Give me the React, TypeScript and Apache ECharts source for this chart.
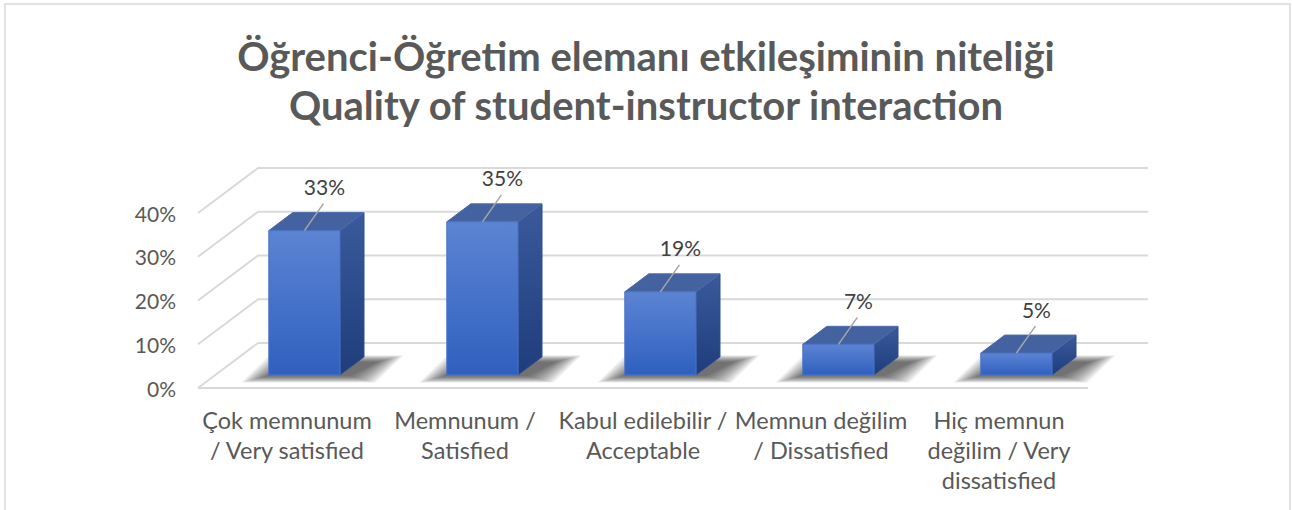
import React, { useEffect, useRef } from "react";
import * as echarts from "echarts";

const titleLines = [
  "Öğrenci-Öğretim elemanı etkileşiminin niteliği",
  "Quality of student-instructor interaction",
];
const categories = [
  "Çok memnunum\n/ Very satisfied",
  "Memnunum /\nSatisfied",
  "Kabul edilebilir /\nAcceptable",
  "Memnun değilim\n/ Dissatisfied",
  "Hiç memnun\ndeğilim / Very\ndissatisfied",
];
const values = [33, 35, 19, 7, 5];
const yTicks = [0, 10, 20, 30, 40];

const FONT = "Lato, 'Open Sans', sans-serif";
const DEPTH_X = 60;
const DEPTH_Y = -45;
const BAR_D1 = 0.29;
const BAR_D2 = 0.69;
const BAR_W = 0.4;
const SHADOW_LAYERS = 12;

export default function App() {
  const ref = useRef<HTMLDivElement>(null);
  useEffect(() => {
    document.body.style.margin = "0";
    const chart = echarts.init(ref.current!, null, { renderer: "svg" });
    const option: any = {
      animation: false,
      backgroundColor: "#ffffff",
      title: {
        text: titleLines.join("\n"),
        left: "center",
        top: 26,
        textStyle: {
          fontFamily: FONT,
          fontSize: 40,
          fontWeight: "bold",
          color: "#595959",
          lineHeight: 49,
        },
      },
      graphic: [
        {
          type: "rect",
          shape: { x: 5, y: 4, width: 1285, height: 520 },
          style: { fill: "none", stroke: "#d9d9d9", lineWidth: 1.5 },
          silent: true,
        },
      ],
      grid: { left: 198, top: 213, width: 890, height: 175 },
      xAxis: {
        type: "category",
        data: categories,
        axisLine: { show: false },
        axisTick: { show: false },
        splitLine: { show: false },
        axisLabel: {
          interval: 0,
          fontFamily: FONT,
          fontSize: 23.5,
          lineHeight: 30,
          color: "#595959",
          margin: 17,
        },
      },
      yAxis: {
        type: "value",
        min: 0,
        max: 40,
        interval: 10,
        axisLine: { show: false },
        axisTick: { show: false },
        splitLine: { show: false },
        axisLabel: {
          formatter: "{value}%",
          fontFamily: FONT,
          fontSize: 21,
          color: "#595959",
          margin: 22,
        },
      },
      series: [
        {
          type: "custom",
          name: "walls",
          z: 1,
          silent: true,
          data: yTicks.map((v) => [0, v]),
          encode: { x: 0, y: 1 },
          renderItem: (params: any, api: any) => {
            const cs = params.coordSys;
            const p = api.coord([0, api.value(1)]);
            const y = p[1];
            const x0 = cs.x;
            const x1 = cs.x + cs.width;
            const ls = { stroke: "#d9d9d9", lineWidth: 2 };
            const children: any[] = [
              {
                type: "line",
                shape: { x1: x0, y1: y, x2: x0 + DEPTH_X, y2: y + DEPTH_Y },
                style: ls,
              },
              {
                type: "line",
                shape: { x1: x0 + DEPTH_X, y1: y + DEPTH_Y, x2: x1 + DEPTH_X, y2: y + DEPTH_Y },
                style: ls,
              },
            ];
            if (api.value(1) === 0) {
              children.push({
                type: "line",
                shape: { x1: x0, y1: y, x2: x1, y2: y },
                style: ls,
              });
            }
            return { type: "group", children };
          },
        },
        {
          type: "custom",
          name: "bars",
          z: 2,
          data: values.map((v, i) => [i, v]),
          encode: { x: 0, y: 1 },
          renderItem: (params: any, api: any) => {
            const band = api.size([1, 0])[0];
            const base = api.coord([api.value(0), 0]);
            const topP = api.coord([api.value(0), api.value(1)]);
            const w = band * BAR_W;
            const ox = DEPTH_X * BAR_D1;
            const oy = DEPTH_Y * BAR_D1;
            const dx = DEPTH_X * (BAR_D2 - BAR_D1);
            const dy = DEPTH_Y * (BAR_D2 - BAR_D1);
            const L = base[0] - w / 2 + ox;
            const R = L + w;
            const B = base[1] + oy;
            const T = topP[1] + oy;
            const cx = (L + R) / 2;
            const v = api.value(1);
            const shadows: any[] = [];
            for (let k = SHADOW_LAYERS - 1; k >= 0; k--) {
              const e = k * 2.3;
              const ev = k * 0.6;
              shadows.push({
                type: "polygon",
                shape: {
                  points: [
                    [L - 2 - e, B + 1 + ev],
                    [R + 10 + e, B + 1 + ev],
                    [R + dx + 14 + e, B + dy + 5 - ev],
                    [L + dx + 2 - e, B + dy + 5 - ev],
                  ],
                },
                style: { fill: "rgba(30,30,30,0.075)" },
                silent: true,
              });
            }
            return {
              type: "group",
              children: [
                ...shadows,
                {
                  type: "polygon",
                  shape: { points: [[R, T], [R + dx, T + dy], [R + dx, B + dy], [R, B]] },
                  style: {
                    fill: new echarts.graphic.LinearGradient(0, 0, 0, 1, [
                      { offset: 0, color: "#3a5a9c" },
                      { offset: 1, color: "#1f3d7c" },
                    ]),
                    stroke: "#2f4f90",
                    lineWidth: 1,
                  },
                },
                {
                  type: "polygon",
                  shape: { points: [[L, T], [L + dx, T + dy], [R + dx, T + dy], [R, T]] },
                  style: { fill: "#44629f", stroke: "#4e6cab", lineWidth: 1 },
                },
                {
                  type: "rect",
                  shape: { x: L, y: T, width: w, height: B - T },
                  style: {
                    fill: new echarts.graphic.LinearGradient(0, 0, 0, 1, [
                      { offset: 0, color: "#5c84d3" },
                      { offset: 1, color: "#2f60bf" },
                    ]),
                    stroke: "#4a72c6",
                    lineWidth: 1,
                  },
                },
                {
                  type: "line",
                  shape: { x1: cx, y1: T, x2: cx + 19, y2: T - 27 },
                  style: { stroke: "#a6a6a6", lineWidth: 1.5 },
                },
                {
                  type: "text",
                  style: {
                    text: v + "%",
                    x: cx + 20,
                    y: T - 44,
                    align: "center",
                    verticalAlign: "middle",
                    fontFamily: FONT,
                    fontSize: 21,
                    fill: "#404040",
                  },
                },
              ],
            };
          },
        },
      ],
    };
    chart.setOption(option);
    return () => chart.dispose();
  }, []);
  return <div ref={ref} style={{ width: 1292, height: 510 }} />;
}
